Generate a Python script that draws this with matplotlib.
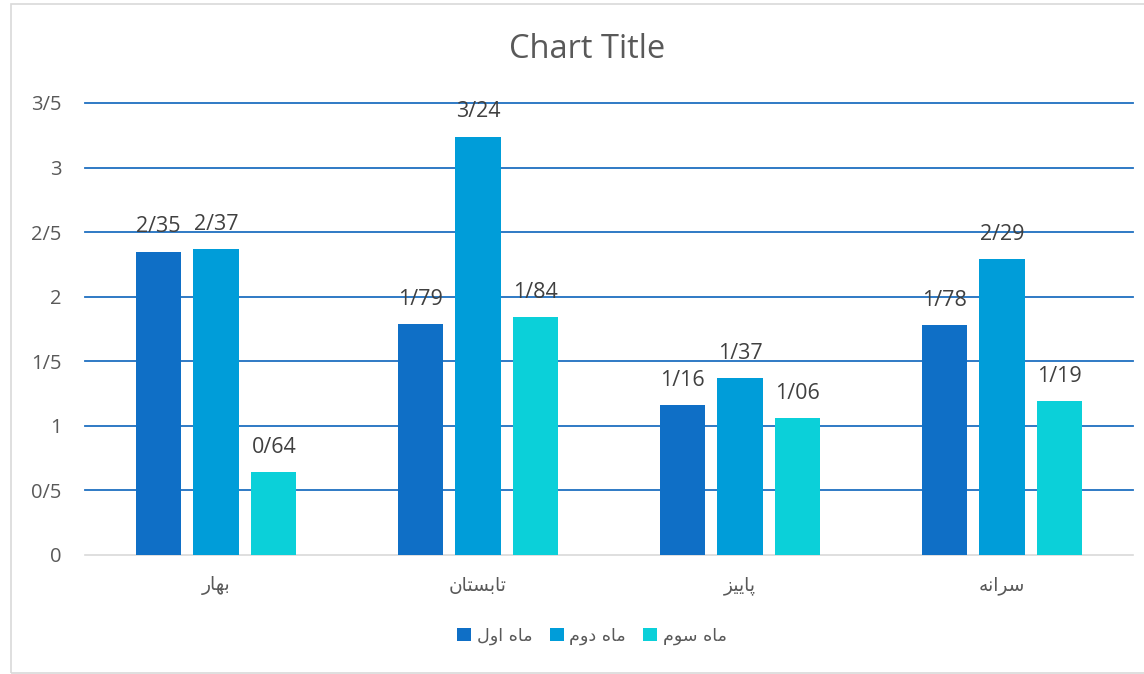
import matplotlib
matplotlib.use("Agg")
import matplotlib.pyplot as plt
from matplotlib.patches import Rectangle
import numpy as np

# Persian text written with Arabic presentation forms in visual order
categories = ["\uFEAD\uFE8E\uFEEC\uFE91",                      # بهار
              "\uFEE5\uFE8E\uFE98\uFEB4\uFE91\uFE8E\uFE97",    # تابستان
              "\uFEB0\uFBFF\uFBFE\uFE8E\uFB58",                # پاییز
              "\uFEEA\uFEE7\uFE8D\uFEAE\uFEB3"]                # سرانه
series_names = ["\uFEDD\uFEED\uFE8D \uFEE9\uFE8E\uFEE3",       # ماه اول
                "\uFEE1\uFEED\uFEA9 \uFEE9\uFE8E\uFEE3",       # ماه دوم
                "\uFEE1\uFEEE\uFEB3 \uFEE9\uFE8E\uFEE3"]       # ماه سوم
month1 = [2.35, 1.79, 1.16, 1.78]
month2 = [2.37, 3.24, 1.37, 2.29]
month3 = [0.64, 1.84, 1.06, 1.19]
yticks = [0, 0.5, 1, 1.5, 2, 2.5, 3, 3.5]
ytick_labels = ["0", "0/5", "1", "1/5", "2", "2/5", "3", "3/5"]

colors = ["#0F6FC6", "#009DD9", "#0BD0D9"]
text_color = "#595959"
num_font = ["Open Sans", "DejaVu Sans"]
ar_font = ["DejaVu Sans"]

fig = plt.figure(figsize=(11.44, 6.74), dpi=100)
ax = fig.add_axes([85/1144, 1-555/674, (1133-85)/1144, (555-103)/674])

# chart border
fig.patches.append(Rectangle((11/1144, 1/674), 1.2, 669/674, transform=fig.transFigure,
                             fill=False, edgecolor="#D9D9D9", linewidth=1.2))

x = np.arange(len(categories))
w = 0.172
step = 0.221
for i, (vals, c) in enumerate(zip([month1, month2, month3], colors)):
    bars = ax.bar(x + (i - 1) * step, vals, width=w, color=c, zorder=3, label=series_names[i])
    for b, v in zip(bars, vals):
        ax.text(b.get_x() + b.get_width()/2, v + 0.11, f"{v:.2f}".replace(".", "/"),
                ha="center", va="bottom", fontsize=15.5, color="#404040", family=num_font,
                zorder=4)

ax.set_xlim(-0.5, len(categories) - 0.5)
ax.set_ylim(0, 3.5)
ax.set_yticks(yticks)
ax.set_yticklabels(ytick_labels, family=num_font, fontsize=14.5, color=text_color)
ax.set_xticks(x)
ax.set_xticklabels(categories, family=ar_font, fontsize=13.4, color=text_color)
ax.tick_params(axis="both", length=0)
ax.tick_params(axis="y", pad=17)
ax.tick_params(axis="x", pad=15)
for y in yticks[1:]:
    ax.axhline(y, color="#1F6FC0", linewidth=1.3, zorder=1, clip_on=False)
for s in ["top", "right", "left"]:
    ax.spines[s].set_visible(False)
ax.spines["bottom"].set_color("#D9D9D9")
ax.spines["bottom"].set_linewidth(1.2)

fig.text(587/1144, 1-49/674, "Chart Title", ha="center", va="center",
         fontsize=23.5, color=text_color, family=num_font)

leg = fig.legend(loc="center", bbox_to_anchor=(592/1144, 1-636/674), ncol=3, frameon=False,
                 prop={"family": ar_font, "size": 12.6}, handlelength=0.8, handleheight=0.8,
                 handletextpad=0.3, columnspacing=1.0)
for t in leg.get_texts():
    t.set_color(text_color)

fig.savefig("out.png", dpi=100)
